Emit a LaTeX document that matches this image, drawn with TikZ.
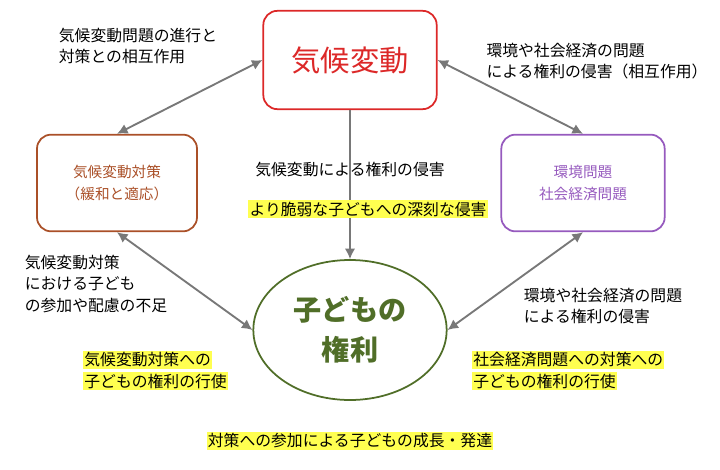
\documentclass[tikz,border=0pt]{standalone}
\usepackage{fontspec}
\setmainfont{Noto Sans CJK JP}
\usetikzlibrary{shapes.geometric,arrows.meta}
\definecolor{redbox}{RGB}{220,40,40}
\definecolor{brownbox}{RGB}{170,80,40}
\definecolor{purplebox}{RGB}{150,90,190}
\definecolor{greenell}{RGB}{80,110,40}
\definecolor{arrowgray}{RGB}{120,120,120}
\definecolor{hilite}{RGB}{255,255,80}
\tikzset{
  box/.style={draw, line width=1.5pt, rounded corners=12pt, align=center},
  note/.style={font=\fontsize{13.5}{18}\selectfont, align=left, inner sep=1pt},
  marked/.style={note, fill=hilite},
  link/.style={draw=arrowgray, line width=1.6pt, {Latex[length=9pt,width=9pt]}-{Latex[length=9pt,width=9pt]}},
}
\begin{document}
\begin{tikzpicture}[x=0.03cm,y=-0.03cm]
\useasboundingbox (0,0) rectangle (720,469);

\node[box, draw=redbox, minimum width=5.2cm, minimum height=2.95cm, text=redbox,
  font=\fontsize{25}{28}\selectfont] (climate) at (350,60) {気候変動};

\node[box, draw=brownbox, minimum width=4.8cm, minimum height=2.9cm, text=brownbox,
  font=\fontsize{12.5}{19}\selectfont] (policy) at (117,183) {気候変動対策\\（緩和と適応）};

\node[box, draw=purplebox, minimum width=4.9cm, minimum height=2.9cm, text=purplebox,
  font=\fontsize{12.5}{19}\selectfont] (env) at (583,183) {環境問題\\社会経済問題};

\node[ellipse, draw=greenell, line width=1.5pt, minimum width=5.8cm, minimum height=4.2cm,
  align=center, text=greenell, font=\bfseries\fontsize{24}{34}\selectfont] (rights) at (350,330) {子どもの\\権利};

% connectors
\draw[link] (climate.west) -- (policy.north);
\draw[link] (climate.east) -- (env.north);
\draw[draw=arrowgray, line width=1.6pt, -{Latex[length=9pt,width=9pt]}] (climate.south) -- (rights.north);
\draw[link] (policy.south) -- (rights.west);
\draw[link] (env.south) -- (rights.east);

% labels
\node[note] (t1) at (138,46) {気候変動問題の進行と\\対策との相互作用};
\node[note] (t2) at (597,61) {環境や社会経済の問題\\による権利の侵害（相互作用）};
\node[note] (t3) at (350,170) {気候変動による権利の侵害};
\node[marked] (t4) at (368,209) {より脆弱な子どもへの深刻な侵害};
\node[note] (t5) at (96,284) {気候変動対策\\における子ども\\の参加や配慮の不足};
\node[note] (t6) at (603,306) {環境や社会経済の問題\\による権利の侵害};
\node[marked, anchor=west] (t7a) at (83,360) {気候変動対策への};
\node[marked, anchor=west] (t7b) at (83,381) {子どもの権利の行使};
\node[marked, anchor=west] (t8a) at (472,360) {社会経済問題への対策への};
\node[marked, anchor=west] (t8b) at (472,381) {子どもの権利の行使};
\node[marked] (t9) at (350,441) {対策への参加による子どもの成長・発達};
\end{tikzpicture}
\end{document}
